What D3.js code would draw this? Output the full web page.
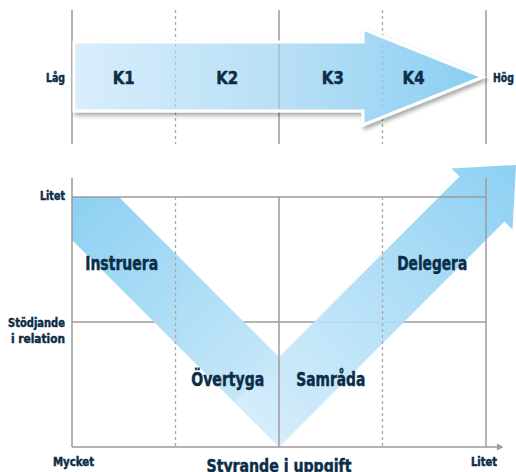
<!DOCTYPE html>
<html>
<head>
<meta charset="utf-8">
<script src="https://cdn.jsdelivr.net/npm/d3@7"></script>
<style>
  html, body { margin: 0; padding: 0; background: #fff; }
  svg { display: block; }
  text { font-family: "DejaVu Sans Condensed", "DejaVu Sans", sans-serif; font-weight: bold; fill: #0c2d47; stroke: #0c2d47; stroke-width: 0.45; }
</style>
</head>
<body>
<svg width="516" height="472"></svg>
<script>
// levels (top arrow) and leadership styles (V shape)
const levels = ["K1", "K2", "K3", "K4"];
const levelPos = [0.5, 1.5, 2.52, 3.3];          // where each level label sits on the 0..4 scale
const scaleEnds = ["Låg", "Hög"];
const styles = ["Instruera", "Övertyga", "Samråda", "Delegera"];
const stylePos = [[0.48, 1.5], [1.5, 0.5], [2.5, 0.5], [3.48, 1.5]]; // [task, relation] in grid units
const relationTicks = ["Litet", "Stödjande\ni relation"];
const taskTicks = ["Mycket", "Litet"];
const taskTitle = "Styrande i uppgift";

const svg = d3.select("svg");
const grid = "#9b9b9b";

// shared horizontal scale, 4 columns
const x = d3.scaleLinear().domain([0, 4]).range([72, 486]);
// bottom panel vertical scale, 2 rows
const y = d3.scaleLinear().domain([0, 2]).range([447, 197]);

const defs = svg.append("defs");

const gTop = defs.append("linearGradient").attr("id", "gTop")
  .attr("gradientUnits", "userSpaceOnUse")
  .attr("x1", x(0)).attr("x2", x(4)).attr("y1", 0).attr("y2", 0);
gTop.append("stop").attr("offset", 0).attr("stop-color", "#d9eefb");
gTop.append("stop").attr("offset", 0.55).attr("stop-color", "#b5def6");
gTop.append("stop").attr("offset", 1).attr("stop-color", "#88cef2");

const gLeft = defs.append("linearGradient").attr("id", "gLeft")
  .attr("gradientUnits", "userSpaceOnUse")
  .attr("x1", x(0)).attr("y1", y(2)).attr("x2", x(2) + 20).attr("y2", y(0) - 20);
gLeft.append("stop").attr("offset", 0).attr("stop-color", "#8dd0f2");
gLeft.append("stop").attr("offset", 1).attr("stop-color", "#d3ecfa");

const gRight = defs.append("linearGradient").attr("id", "gRight")
  .attr("gradientUnits", "userSpaceOnUse")
  .attr("x1", x(2) - 20).attr("y1", y(0) - 20).attr("x2", 510).attr("y2", 170);
gRight.append("stop").attr("offset", 0).attr("stop-color", "#d6edfb");
gRight.append("stop").attr("offset", 1).attr("stop-color", "#86cdf2");

const shadow = defs.append("filter").attr("id", "shadow")
  .attr("x", "-10%").attr("y", "-20%").attr("width", "130%").attr("height", "150%");
shadow.append("feDropShadow").attr("dx", 2).attr("dy", 3).attr("stdDeviation", 2)
  .attr("flood-color", "#000").attr("flood-opacity", 0.35);

function vline(g, xv, y0, y1, dashed, op) {
  g.append("line")
    .attr("x1", xv).attr("x2", xv).attr("y1", y0).attr("y2", y1)
    .attr("stroke", dashed ? "#a8a8a8" : grid)
    .attr("stroke-width", dashed ? 1.3 : 1.5)
    .attr("stroke-dasharray", dashed ? "3,3" : null)
    .attr("opacity", op || 1);
}
function hline(g, yv, x0, x1) {
  g.append("line")
    .attr("x1", x0).attr("x2", x1).attr("y1", yv).attr("y2", yv)
    .attr("stroke", grid).attr("stroke-width", 1.5);
}
function label(g, txt, px, py, size, w, anchor) {
  return g.append("text")
    .attr("x", px).attr("y", py)
    .attr("text-anchor", anchor || "middle")
    .attr("font-size", size)
    .attr("textLength", w).attr("lengthAdjust", "spacingAndGlyphs")
    .text(txt);
}

// ---------- top panel: K1..K4 arrow ----------
const topPanel = svg.append("g");
const cy = 77;
d3.range(5).forEach(i => vline(topPanel, x(i), 10, 144, i % 2 === 1));

const topArrow = [
  [x(0) + 2, cy - 35], [363, cy - 35], [363, cy - 48],
  [x(4) - 3, cy], [363, cy + 48], [363, cy + 34], [x(0) + 2, cy + 34]
];
topPanel.append("path")
  .attr("d", d3.line()(topArrow) + "Z")
  .attr("fill", "url(#gTop)")
  .attr("stroke", "#fff").attr("stroke-width", 3)
  .attr("filter", "url(#shadow)");

// inner lines show faintly through the arrow
[1, 2, 3].forEach(i => vline(topPanel, x(i), cy - 33, cy + 32, i % 2 === 1, 0.55));

levels.forEach((k, i) => label(topPanel, k, x(levelPos[i]), cy + 6.5, 18, 22));
label(topPanel, scaleEnds[0], 55.5, cy + 4.5, 12, 19);
label(topPanel, scaleEnds[1], 503.5, cy + 4.5, 12, 21);

// ---------- bottom panel: V shaped styles ----------
const bot = svg.append("g");

// middle horizontal line sits under the bands
hline(bot, y(1), x(0), x(4));

const bx = x(2), by = y(0);        // vertex of the V
const w = 45;                       // band offset per axis (~64px across)
// left band: from the top-left corner down to the vertex
const leftBand = [
  [x(0), y(2)], [bx - (by - y(2)) + 2 * w, y(2)], [bx + w, by - w],
  [bx, by], [x(0), by - (bx - x(0))]
];
bot.append("path").attr("d", d3.line()(leftBand) + "Z").attr("fill", "url(#gLeft)");

// right band: from the vertex up to the arrow head
const L = 225.5, wing = 8, head = 34;
const rightBand = [
  [bx, by],
  [bx - w, by - w],
  [bx - w + L, by - w - L],
  [bx - w + L - wing, by - w - L - wing],
  [bx - w / 2 + L + head, by - w / 2 - L - head],
  [bx + L + wing, by - L + wing],
  [bx + L, by - L]
];
bot.append("path")
  .attr("d", d3.line()(rightBand) + "Z")
  .attr("fill", "url(#gRight)").attr("opacity", 0.93);

// grid over the bands
hline(bot, y(2), x(0), x(4));
vline(bot, x(0), 178, y(0), false);
vline(bot, x(4), 178, y(0), false);
vline(bot, x(1), y(2), y(0), true);
vline(bot, x(2), y(2), y(0), false);
vline(bot, x(3), y(2), y(0), true);
hline(bot, y(0), x(0), 497);
bot.append("path")
  .attr("d", d3.line()([[497, y(0) - 3.5], [503.5, y(0)], [497, y(0) + 3.5]]) + "Z")
  .attr("fill", grid);

// style labels
label(bot, styles[0], x(stylePos[0][0]), y(stylePos[0][1]) + 10.5, 19, 73);
label(bot, styles[1], x(stylePos[1][0]) + 0.5, y(stylePos[1][1]) + 1.5, 19, 73);
label(bot, styles[2], x(stylePos[2][0]), y(stylePos[2][1]) + 1.5, 19, 69);
label(bot, styles[3], x(stylePos[3][0]), y(stylePos[3][1]) + 10.5, 19, 70);

// relation axis ticks
label(bot, relationTicks[0], 65, y(2) + 3, 12.5, 25, "end");
const rel = relationTicks[1].split("\n");
label(bot, rel[0], 65, y(1) + 4.5, 12.5, 57, "end");
label(bot, rel[1], 65, y(1) + 20.5, 12.5, 54, "end");

// task axis ticks and title
label(bot, taskTicks[0], x(0) + 1.5, 466, 12, 41);
label(bot, taskTicks[1], x(4) - 2, 466, 12, 26);
label(bot, taskTitle, x(2), 471.5, 17.5, 145);
</script>
</body>
</html>
